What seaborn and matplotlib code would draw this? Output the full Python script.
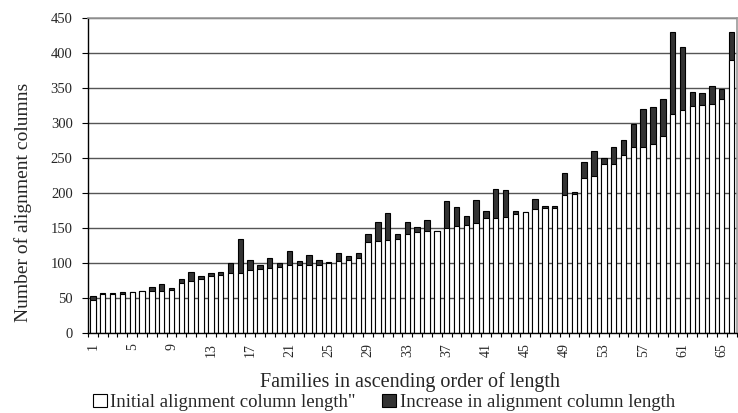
import numpy as np
import pandas as pd
import matplotlib
matplotlib.use("Agg")
import matplotlib.pyplot as plt
from matplotlib.patches import Patch
import seaborn as sns

families = list(range(1, 67))
initial = [48, 56, 56, 56, 59, 60, 61, 61, 62, 72, 74, 78, 81, 83, 86, 86, 90, 91, 93, 95,
           97, 97, 97, 98, 100, 103, 104, 108, 130, 131, 133, 135, 141, 145, 146, 146, 150, 153, 155, 157,
           164, 164, 166, 170, 173, 177, 178, 178, 197, 198, 222, 224, 242, 242, 254, 265, 266, 270, 282, 313,
           318, 324, 325, 327, 334, 390]
increase = [5, 1, 1, 3, 0, 0, 5, 9, 2, 5, 14, 4, 5, 5, 14, 48, 15, 7, 15, 5,
            20, 6, 14, 7, 1, 11, 6, 6, 11, 27, 38, 6, 18, 6, 16, 0, 38, 27, 12, 33,
            11, 42, 38, 4, 0, 15, 4, 4, 31, 3, 22, 36, 8, 24, 21, 33, 54, 52, 52, 117,
            90, 20, 17, 26, 14, 39]
y_ticks = [0, 50, 100, 150, 200, 250, 300, 350, 400, 450]
x_tick_labels = [str(v) for v in range(1, 67, 4)]

series_names = ['Initial alignment column length"', "Increase in alignment column length"]

df = pd.DataFrame({"family": families, "initial": initial, "increase": increase})
df["total"] = df["initial"] + df["increase"]

sns.set_theme(style="white")
plt.rcParams["font.family"] = ["Liberation Serif", "DejaVu Serif"]

fig = plt.figure(figsize=(7.38, 4.13), dpi=100)
ax = fig.add_axes([88 / 738, 1 - 333.3 / 413, (736.5 - 88) / 738, (333.3 - 17.7) / 413])

dark = "#333333"
sns.barplot(data=df, x="family", y="total", color=dark, saturation=1, width=0.55,
            edgecolor="black", linewidth=0.8, ax=ax)
sns.barplot(data=df, x="family", y="initial", color="white", saturation=1, width=0.55,
            edgecolor="black", linewidth=0.8, ax=ax)

ax.set_xlim(-0.5, len(families) - 0.5)
ax.set_ylim(0, 450)
ax.set_yticks(y_ticks)
ax.set_yticklabels([str(v) for v in y_ticks], fontsize=10.5)
ax.yaxis.grid(True, color="#555555", linewidth=1)
ax.set_axisbelow(True)

# tick marks between categories, labels at category centres
ax.set_xticks(np.arange(-0.5, len(families), 1))
ax.set_xticklabels([])
label_pos = [families.index(int(s)) for s in x_tick_labels]
ax.set_xticks(label_pos, minor=True)
ax.set_xticklabels(x_tick_labels, minor=True, rotation=90, fontsize=10)
ax.tick_params(axis="x", which="major", direction="out", length=3, width=0.8, color="black", bottom=True)
ax.tick_params(axis="x", which="minor", length=0, pad=7)
ax.tick_params(axis="y", direction="out", length=4, width=0.8, color="black", left=True, pad=7)

ax.set_xlabel("")
ax.set_ylabel("")
for side in ["left", "bottom"]:
    ax.spines[side].set_color("black")
    ax.spines[side].set_linewidth(1.0)
for side in ["top", "right"]:
    ax.spines[side].set_visible(True)
    ax.spines[side].set_color("#999999")
    ax.spines[side].set_linewidth(1.2)

fig.text(0.031, 0.51, "Number of alignment columns", rotation=90, ha="center", va="center", fontsize=14)
fig.text(0.556, 0.075, "Families in ascending order of length", ha="center", va="center", fontsize=14.5)

handles = [Patch(facecolor="white", edgecolor="black", linewidth=0.8),
           Patch(facecolor=dark, edgecolor="black", linewidth=0.8)]
fig.legend(handles, series_names, loc="center", bbox_to_anchor=(0.52, 0.026), ncol=2, frameon=False,
           fontsize=13.5, handlelength=0.75, handleheight=0.75, handletextpad=0.2, columnspacing=1.4,
           borderaxespad=0, borderpad=0)

fig.savefig("out.png", dpi=100)
